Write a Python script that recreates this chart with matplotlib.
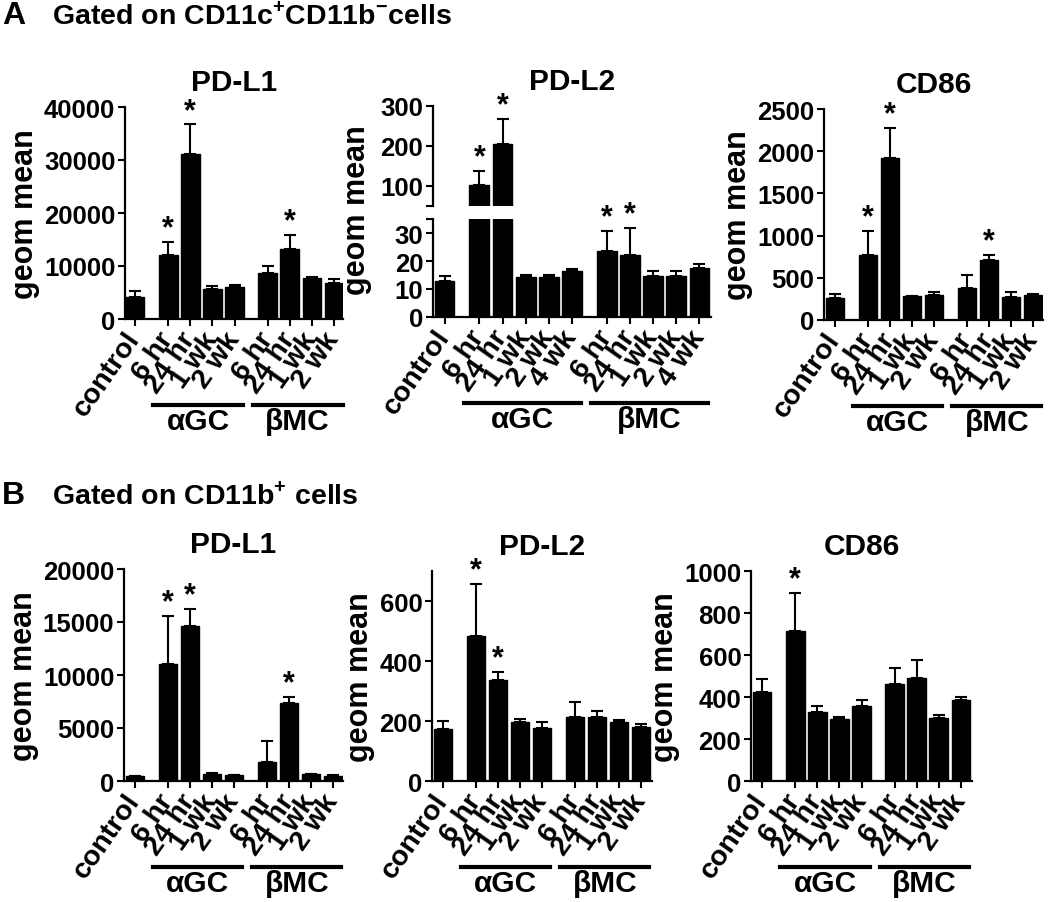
import numpy as np
import matplotlib as mplt
mplt.use("Agg")
import matplotlib.pyplot as plt
from matplotlib.transforms import blended_transform_factory, offset_copy

plt.rcParams["font.family"] = ["Liberation Sans", "DejaVu Sans"]
plt.rcParams["font.weight"] = "bold"
plt.rcParams["axes.labelweight"] = "bold"
plt.rcParams["axes.titleweight"] = "bold"
plt.rcParams["mathtext.fontset"] = "custom"
plt.rcParams["mathtext.rm"] = "Liberation Sans:bold"
plt.rcParams["mathtext.bf"] = "Liberation Sans:bold"

# ---- data ----
labels_4 = ["control", "6 hr", "24 hr", "1 wk", "2 wk", "6 hr", "24 hr", "1 wk", "2 wk"]
labels_5 = ["control", "6 hr", "24 hr", "1 wk", "2 wk", "4 wk", "6 hr", "24 hr", "1 wk", "2 wk", "4 wk"]
groups = ["αGC", "βMC"]

# A: gated on CD11c+CD11b- cells
a_pdl1_mean = [4200, 12000, 31200, 5700, 6100, 8600, 13300, 7700, 6800]
a_pdl1_sem = [1000, 2600, 5500, 500, 300, 1400, 2600, 200, 700]
a_pdl1_sig = [0, 1, 1, 0, 0, 0, 1, 0, 0]

a_pdl2_mean = [12.8, 102, 204, 14.3, 14.3, 16.4, 23.4, 22.0, 14.8, 14.8, 17.4]
a_pdl2_sem = [1.9, 36, 64, 0.6, 0.6, 0.9, 7.4, 9.8, 1.7, 1.7, 1.6]
a_pdl2_sig = [0, 1, 1, 0, 0, 0, 1, 1, 0, 0, 0]

a_cd86_mean = [255, 770, 1920, 280, 300, 385, 710, 275, 295]
a_cd86_sem = [48, 290, 355, 8, 30, 145, 65, 60, 12]
a_cd86_sig = [0, 1, 1, 0, 0, 0, 1, 0, 0]

# B: gated on CD11b+ cells
b_pdl1_mean = [440, 11000, 14650, 700, 520, 1750, 7400, 650, 500]
b_pdl1_sem = [30, 4600, 1550, 30, 30, 2050, 500, 50, 30]
b_pdl1_sig = [0, 1, 1, 0, 0, 0, 1, 0, 0]

b_pdl2_mean = [175, 485, 338, 197, 178, 213, 212, 197, 181]
b_pdl2_sem = [25, 173, 27, 10, 20, 52, 22, 6, 10]
b_pdl2_sig = [0, 1, 1, 0, 0, 0, 0, 0, 0]

b_cd86_mean = [422, 715, 327, 296, 358, 464, 490, 301, 388]
b_cd86_sem = [64, 182, 32, 9, 28, 72, 88, 15, 14]
b_cd86_sig = [0, 1, 0, 0, 0, 0, 0, 0, 0]

# ---- layout helpers ----
W, H = 1050, 903
fig = plt.figure(figsize=(W / 100, H / 100), dpi=100)

TICK_FS = 18.5
XLAB_FS = 20.5
TITLE_FS = 21.5
YLAB_FS = 22


def px_axes(x0, y0, x1, y1):
    return fig.add_axes([x0 / W, 1 - y1 / H, (x1 - x0) / W, (y1 - y0) / H])


def positions(n_per_group):
    pos = [0.0] + [1.5 + i for i in range(n_per_group)]
    pos += [pos[-1] + 1.5 + i for i in range(n_per_group)]
    return np.array(pos)


def style(ax, xaxis=True):
    for s in ["top", "right"]:
        ax.spines[s].set_visible(False)
    ax.spines["left"].set_linewidth(1.6)
    ax.spines["bottom"].set_linewidth(1.6)
    ax.tick_params(direction="out", length=5, width=1.5, labelsize=TICK_FS, pad=2)
    if not xaxis:
        ax.spines["bottom"].set_visible(False)
        ax.set_xticks([])


def draw_bars(ax, pos, mean, sem, sig, ylim):
    mean = np.array(mean)
    sem = np.array(sem)
    ax.bar(pos, mean, width=0.85, color="black", edgecolor="black", zorder=2)
    ax.errorbar(pos, mean, yerr=[np.zeros_like(sem), sem], fmt="none", ecolor="black",
                elinewidth=1.5, capsize=4, capthick=1.5, zorder=3)
    ax.set_ylim(*ylim)
    for x, m, s, g in zip(pos, mean, sem, sig):
        if g and ylim[0] < m + s <= ylim[1]:
            ax.annotate("*", (x, m + s), xytext=(0, -1), textcoords="offset points",
                        ha="center", va="bottom", fontsize=22, annotation_clip=False)


def xlabels(ax, pos, labels, n_per_group):
    ax.set_xticks(pos)
    ax.set_xticklabels(labels, rotation=55, ha="right", va="center",
                       rotation_mode="anchor", fontsize=XLAB_FS)
    ax.tick_params(axis="x", pad=6)
    base = blended_transform_factory(ax.transData, ax.transAxes)
    line_tr = offset_copy(base, fig=fig, y=-86, units="dots")
    text_tr = offset_copy(base, fig=fig, y=-102, units="dots")
    for k, name in enumerate(groups):
        idx = 1 + k * n_per_group
        x0 = pos[idx] - 0.68
        x1 = pos[idx + n_per_group - 1] + 0.38
        ax.plot([x0, x1], [0, 0], color="black", lw=3, transform=line_tr, clip_on=False)
        ax.text((x0 + x1) / 2, 0, name, transform=text_tr, ha="center", va="center",
                fontsize=XLAB_FS + 1)


def simple_panel(box, title, mean, sem, sig, ylim, yticks, labels, npg, xlim):
    ax = px_axes(*box)
    pos = positions(npg)
    style(ax)
    draw_bars(ax, pos, mean, sem, sig, ylim)
    ax.set_yticks(yticks)
    ax.set_xlim(*xlim)
    xlabels(ax, pos, labels, npg)
    ax.set_ylabel("geom mean", fontsize=YLAB_FS, labelpad=3)
    ax.set_title(title, fontsize=TITLE_FS, pad=12)
    return ax


# ---- panel A ----
fig.text(2 / W, 1 - 16 / H, "A", fontsize=23, fontweight="bold", va="center", ha="left")
fig.text(52 / W, 1 - 16 / H, r"Gated on CD11c$^{+}$CD11b$^{-}$cells", fontsize=20.5,
         fontweight="bold", va="center", ha="left")

simple_panel((125, 108, 343, 320), "PD-L1", a_pdl1_mean, a_pdl1_sem, a_pdl1_sig,
             (0, 40000), np.arange(0, 40001, 10000), labels_4, 4, (-0.45, 9.4))

# broken axis for PD-L2
pos5 = positions(5)
ax_up = px_axes(433, 107, 711, 207)
ax_lo = px_axes(433, 220, 711, 318)
style(ax_up, xaxis=False)
style(ax_lo)
draw_bars(ax_up, pos5, a_pdl2_mean, a_pdl2_sem, a_pdl2_sig, (50, 300))
draw_bars(ax_lo, pos5, a_pdl2_mean, a_pdl2_sem, a_pdl2_sig, (0, 35))
ax_up.set_yticks([50, 100, 200, 300])
ax_up.set_yticklabels(["", "100", "200", "300"])
ax_lo.set_yticks([0, 10, 20, 30, 35])
ax_lo.set_yticklabels(["0", "10", "20", "30", ""])
for a in (ax_up, ax_lo):
    a.set_xlim(-0.5, 11.5)
xlabels(ax_lo, pos5, labels_5, 5)
ax_lo.set_ylabel("geom mean", fontsize=YLAB_FS)
ax_lo.yaxis.set_label_coords(-0.22, 1.1)
ax_up.set_title("PD-L2", fontsize=TITLE_FS, pad=12)

simple_panel((824, 110, 1043, 321), "CD86", a_cd86_mean, a_cd86_sem, a_cd86_sig,
             (0, 2500), np.arange(0, 2501, 500), labels_4, 4, (-0.5, 9.45))

# ---- panel B ----
fig.text(2 / W, 1 - 496 / H, "B", fontsize=23, fontweight="bold", va="center", ha="left")
fig.text(52 / W, 1 - 496 / H, r"Gated on CD11b$^{+}$ cells", fontsize=20.5,
         fontweight="bold", va="center", ha="left")

simple_panel((124, 570, 343, 782), "PD-L1", b_pdl1_mean, b_pdl1_sem, b_pdl1_sig,
             (0, 20000), np.arange(0, 20001, 5000), labels_4, 4, (-0.5, 9.45))
simple_panel((432, 572, 652, 782), "PD-L2", b_pdl2_mean, b_pdl2_sem, b_pdl2_sig,
             (0, 700), [0, 200, 400, 600], labels_4, 4, (-0.5, 9.5))
simple_panel((751, 572, 972, 782), "CD86", b_cd86_mean, b_cd86_sem, b_cd86_sig,
             (0, 1000), np.arange(0, 1001, 200), labels_4, 4, (-0.5, 9.5))

fig.savefig("out.png", dpi=100)
